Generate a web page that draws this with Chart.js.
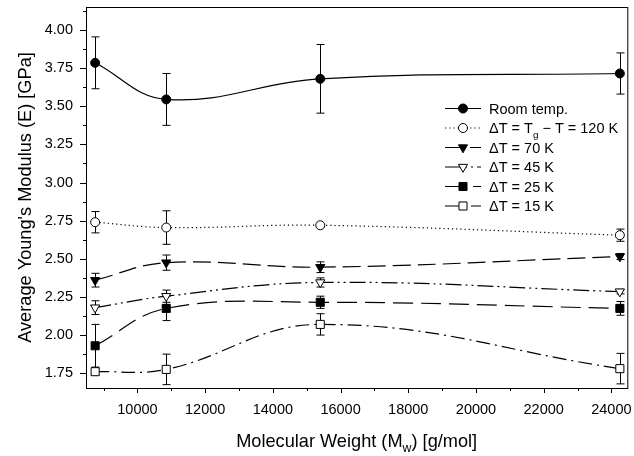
<!DOCTYPE html>
<html lang="en">
<head>
  <meta charset="UTF-8" />
  <title>Young's Modulus vs Molecular Weight</title>
  <style>
    body { margin: 0; background: #fff; }
  </style>
  <script src="https://cdn.jsdelivr.net/npm/chart.js"></script>
</head>
<body>
  <canvas id="chartModulus" width="634" height="456"></canvas>

  <script>
    // Molecular weight of each sample [g/mol]
    const molWeight = [8750, 10850, 15400, 24250];

    // Average modulus [GPa] and error for each test condition
    const roomTemp    = [3.785, 3.545, 3.68, 3.715];
    const roomTempErr = [0.17, 0.17, 0.225, 0.135];
    const dT120       = [2.74, 2.705, 2.72, 2.655];
    const dT120Err    = [0.07, 0.11, 0.01, 0.04];
    const dT70        = [2.36, 2.475, 2.445, 2.515];
    const dT70Err     = [0.045, 0.05, 0.035, 0.02];
    const dT45        = [2.18, 2.255, 2.345, 2.285];
    const dT45Err     = [0.045, 0.04, 0.03, 0.015];
    const dT25        = [1.93, 2.175, 2.215, 2.175];
    const dT25Err     = [0.14, 0.08, 0.04, 0.045];
    const dT15        = [1.76, 1.775, 2.07, 1.78];
    const dT15Err     = [0.02, 0.1, 0.07, 0.1];

    // labelled ticks; an unlabelled minor tick sits halfway between each pair
    const xMajorTicks = [10000, 12000, 14000, 16000, 18000, 20000, 22000, 24000];
    const yMajorTicks = [1.75, 2.00, 2.25, 2.50, 2.75, 3.00, 3.25, 3.50, 3.75, 4.00];

    // "_g" marks a subscript character
    const seriesLabels = ['Room temp.', '\u0394T = T_g \u2212 T = 120 K', '\u0394T = 70 K',
                          '\u0394T = 45 K', '\u0394T = 25 K', '\u0394T = 15 K'];
    const xTitle = 'Molecular Weight (M_w) [g/mol]';
    const yTitle = "Average Young's Modulus (E) [GPa]";

    const FONT = "'Liberation Sans', Arial, sans-serif";

    function series(label, values, errors, style) {
      return Object.assign({
        label: label,
        data: molWeight.map((m, i) => ({ x: m, y: values[i] })),
        errors: errors,
        borderColor: '#000',
        borderWidth: 1.2,
        pointBorderColor: '#000',
        pointBorderWidth: 1,
        tension: 0.4,
        fill: false
      }, style);
    }

    const datasets = [
      series(seriesLabels[0], roomTemp, roomTempErr, { borderDash: [], pointStyle: 'circle', pointRadius: 4.5, pointBackgroundColor: '#000' }),
      series(seriesLabels[1], dT120, dT120Err, { borderDash: [1.2, 3], pointStyle: 'circle', pointRadius: 4.5, pointBackgroundColor: '#fff' }),
      series(seriesLabels[2], dT70, dT70Err, { borderDash: [18, 7], pointStyle: 'triangle', pointRotation: 180, pointRadius: 5.3, pointBackgroundColor: '#000' }),
      series(seriesLabels[3], dT45, dT45Err, { borderDash: [16, 4, 2, 4, 2, 4], pointStyle: 'triangle', pointRotation: 180, pointRadius: 5.3, pointBackgroundColor: '#fff' }),
      series(seriesLabels[4], dT25, dT25Err, { borderDash: [20, 8], pointStyle: 'rect', pointRadius: 5.7, pointBackgroundColor: '#000' }),
      series(seriesLabels[5], dT15, dT15Err, { borderDash: [14, 5, 2, 5], pointStyle: 'rect', pointRadius: 5.7, pointBackgroundColor: '#fff' })
    ];

    // major ticks plus the minor ones between them
    function withMinor(major) {
      const step = major[1] - major[0];
      const out = [major[0] - step / 2];
      major.forEach(v => { out.push(v); out.push(v + step / 2); });
      return out;
    }

    // text with single-character subscripts
    function drawRich(ctx, text, x, y, size, align) {
      const parts = [];
      for (let i = 0; i < text.length; i++) {
        if (text[i] === '_') { parts.push({ t: text[i + 1], sub: true }); i++; }
        else if (parts.length && !parts[parts.length - 1].sub) parts[parts.length - 1].t += text[i];
        else parts.push({ t: text[i], sub: false });
      }
      let total = 0;
      parts.forEach(p => {
        ctx.font = (p.sub ? size * 0.68 : size) + 'px ' + FONT;
        p.w = ctx.measureText(p.t).width;
        total += p.w;
      });
      let cx = align === 'center' ? x - total / 2 : x;
      ctx.textAlign = 'left';
      ctx.textBaseline = 'alphabetic';
      parts.forEach(p => {
        ctx.font = (p.sub ? size * 0.68 : size) + 'px ' + FONT;
        ctx.fillText(p.t, cx, p.sub ? y + size * 0.3 : y);
        cx += p.w;
      });
    }

    function drawMarker(ctx, ds, x, y) {
      const r = ds.pointRadius;
      ctx.beginPath();
      if (ds.pointStyle === 'circle') {
        ctx.arc(x, y, r, 0, Math.PI * 2);
      } else if (ds.pointStyle === 'triangle') {
        const h = r * Math.sqrt(3) / 2;
        ctx.moveTo(x, y + r);
        ctx.lineTo(x - h, y - r / 2);
        ctx.lineTo(x + h, y - r / 2);
        ctx.closePath();
      } else {
        const s = r * Math.SQRT1_2;
        ctx.rect(x - s, y - s, 2 * s, 2 * s);
      }
      ctx.fillStyle = ds.pointBackgroundColor;
      ctx.fill();
      ctx.lineWidth = 1;
      ctx.setLineDash([]);
      ctx.stroke();
    }

    const errorBars = {
      id: 'errorBars',
      beforeDatasetsDraw(chart) {
        const { ctx, scales: { x, y } } = chart;
        ctx.save();
        ctx.strokeStyle = '#000';
        ctx.lineWidth = 1;
        chart.data.datasets.forEach(ds => {
          ds.data.forEach((p, i) => {
            const e = ds.errors[i];
            const px = Math.round(x.getPixelForValue(p.x)) + 0.5;
            const top = y.getPixelForValue(p.y + e);
            const bot = y.getPixelForValue(p.y - e);
            ctx.beginPath();
            ctx.moveTo(px, top); ctx.lineTo(px, bot);
            ctx.moveTo(px - 4, top); ctx.lineTo(px + 4, top);
            ctx.moveTo(px - 4, bot); ctx.lineTo(px + 4, bot);
            ctx.stroke();
          });
        });
        ctx.restore();
      }
    };

    // box, outward tick marks, axis titles and legend
    const frame = {
      id: 'frame',
      afterDraw(chart) {
        const { ctx, chartArea: a, scales: { x, y } } = chart;
        ctx.save();
        ctx.strokeStyle = '#000';
        ctx.fillStyle = '#000';
        ctx.lineWidth = 1;
        ctx.strokeRect(a.left + 0.5, a.top + 0.5, a.right - a.left, a.bottom - a.top);

        ctx.beginPath();
        x.ticks.forEach(t => {
          const px = Math.round(x.getPixelForValue(t.value)) + 0.5;
          ctx.moveTo(px, a.bottom); ctx.lineTo(px, a.bottom + (t.label ? 5 : 3));
        });
        y.ticks.forEach(t => {
          const py = Math.round(y.getPixelForValue(t.value)) + 0.5;
          ctx.moveTo(a.left, py); ctx.lineTo(a.left - (t.label ? 6 : 3), py);
        });
        ctx.stroke();

        drawRich(ctx, xTitle, (a.left + a.right) / 2, 447, 18.2, 'center');
        ctx.save();
        ctx.translate(24, (a.top + a.bottom) / 2);
        ctx.rotate(-Math.PI / 2);
        drawRich(ctx, yTitle, 0, 6.5, 18.2, 'center');
        ctx.restore();

        chart.data.datasets.forEach((ds, i) => {
          const ly = 108.5 + i * 19.5;
          ctx.strokeStyle = '#000';
          ctx.lineWidth = ds.borderWidth;
          ctx.setLineDash(ds.borderDash);
          ctx.beginPath();
          ctx.moveTo(445, ly); ctx.lineTo(481, ly);
          ctx.stroke();
          drawMarker(ctx, ds, 463, ly);
          ctx.fillStyle = '#000';
          drawRich(ctx, ds.label, 489, ly + 5.2, 14.5, 'left');
        });
        ctx.restore();
      }
    };

    new Chart(document.getElementById('chartModulus'), {
      type: 'line',
      data: { datasets: datasets },
      options: {
        responsive: false,
        animation: false,
        layout: { padding: { top: 7, right: 3, left: 0, bottom: 0 } },
        plugins: { legend: { display: false }, tooltip: { enabled: false } },
        scales: {
          x: {
            type: 'linear',
            min: 8480,
            max: 24470,
            grid: { display: false, drawTicks: false },
            border: { display: false },
            afterBuildTicks(scale) {
              scale.ticks = withMinor(xMajorTicks).filter(v => v >= scale.min && v <= scale.max).map(v => ({ value: v }));
            },
            ticks: {
              autoSkip: false,
              maxRotation: 0,
              padding: 13,
              color: '#000',
              font: { family: FONT, size: 14.5 },
              callback: v => (xMajorTicks.includes(v) ? String(v) : '')
            },
            afterFit(scale) { scale.height = 68; scale.paddingLeft = 0; scale.paddingRight = 0; }
          },
          y: {
            min: 1.653,
            max: 4.151,
            grid: { display: false, drawTicks: false },
            border: { display: false },
            afterBuildTicks(scale) {
              scale.ticks = withMinor(yMajorTicks).filter(v => v >= scale.min && v <= scale.max).map(v => ({ value: v }));
            },
            ticks: {
              autoSkip: false,
              padding: 13,
              color: '#000',
              font: { family: FONT, size: 14.5 },
              callback: v => (yMajorTicks.some(m => Math.abs(m - v) < 1e-9) ? v.toFixed(2) : '')
            },
            afterFit(scale) { scale.width = 86; scale.paddingTop = 0; scale.paddingBottom = 0; }
          }
        }
      },
      plugins: [errorBars, frame]
    });
  </script>
</body>
</html>
